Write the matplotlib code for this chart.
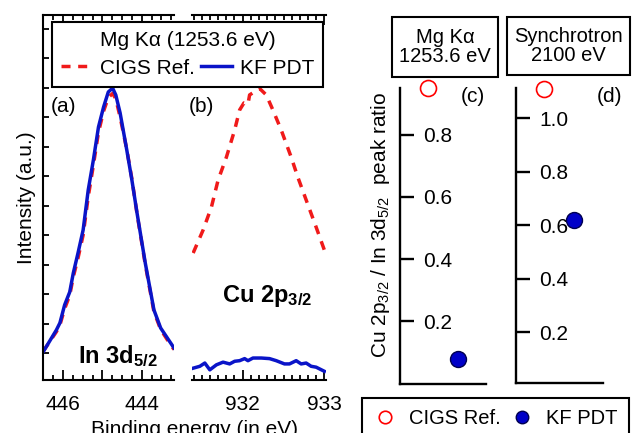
import matplotlib.pyplot as plt
from matplotlib.patches import Rectangle
from matplotlib.lines import Line2D
from matplotlib.ticker import MultipleLocator

plt.rcParams['font.family'] = ['Liberation Sans', 'DejaVu Sans']
plt.rcParams['mathtext.fontset'] = 'custom'
plt.rcParams['mathtext.rm'] = 'Liberation Sans'
plt.rcParams['mathtext.bf'] = 'Liberation Sans:bold'
plt.rcParams['mathtext.it'] = 'Liberation Sans:italic'
plt.rcParams['font.size'] = 15

# In 3d5/2 spectra (binding energy, eV / intensity, a.u.)
in_be = [446.51, 446.17, 446.08, 445.96, 445.83, 445.74, 445.62, 445.49, 445.36, 445.23,
         445.10, 444.97, 444.85, 444.74, 444.66, 444.55, 444.38, 444.25, 444.12, 443.91,
         443.69, 443.52, 443.35, 443.18]
in_kf = [0.003, 0.078, 0.102, 0.163, 0.207, 0.271, 0.339, 0.417, 0.553, 0.654,
         0.766, 0.834, 0.885, 0.898, 0.875, 0.814, 0.688, 0.586, 0.475, 0.305,
         0.146, 0.085, 0.051, 0.017]
in_ref = [0.005, 0.072, 0.095, 0.150, 0.196, 0.258, 0.322, 0.400, 0.530, 0.636,
          0.748, 0.820, 0.866, 0.880, 0.862, 0.800, 0.690, 0.590, 0.472, 0.300,
          0.140, 0.080, 0.045, 0.012]

# Cu 2p3/2 spectra
cu_be_ref = [931.394, 931.516, 931.618, 931.699, 931.801, 931.902, 931.963, 932.016, 932.065,
             932.085, 932.207, 932.289, 932.370, 932.472, 932.594, 932.674, 932.777, 932.899, 933.0]
cu_ref = [0.339, 0.417, 0.495, 0.586, 0.664, 0.756, 0.824, 0.848, 0.844,
          0.875, 0.897, 0.875, 0.824, 0.756, 0.664, 0.597, 0.519, 0.427, 0.349]
cu_be_kf = [931.374, 931.476, 931.537, 931.598, 931.679, 931.760, 931.841, 931.902, 931.963,
            932.024, 932.065, 932.126, 932.228, 932.329, 932.411, 932.512, 932.573, 932.655,
            932.716, 932.777, 932.838, 932.899, 933.0]
cu_kf = [-0.053, -0.045, -0.034, -0.057, -0.040, -0.031, -0.037, -0.028, -0.026,
         -0.019, -0.026, -0.017, -0.017, -0.019, -0.026, -0.037, -0.037, -0.026,
         -0.037, -0.034, -0.045, -0.048, -0.062]

# Cu 2p3/2 / In 3d5/2 peak ratios
samples = [0, 1]
ratio_mg = [0.95, 0.079]
ratio_sync = [1.11, 0.62]

RED = '#f01a1a'
BLUE = '#0a14c8'
DASH = (0, (2.6, 2.2))

W, H = 632, 433
fig = plt.figure(figsize=(6.32, 4.33), dpi=100)


def box(l, t, r, b):
    return [l / W, 1 - b / H, (r - l) / W, (b - t) / H]


ax_a = fig.add_axes(box(43, 15, 174, 380))
ax_b = fig.add_axes(box(192, 15, 326, 380))

l_ref, = ax_a.plot(in_be, in_ref, color=RED, lw=2.5, ls=DASH)
l_kf, = ax_a.plot(in_be, in_kf, color=BLUE, lw=2.5)
ax_b.plot(cu_be_ref, cu_ref, color=RED, lw=2.5, ls=DASH)
ax_b.plot(cu_be_kf, cu_kf, color=BLUE, lw=2.5)

ax_a.set_xlim(446.51, 443.18)
ax_b.set_xlim(931.38, 933.02)
for ax in (ax_a, ax_b):
    ax.set_ylim(-0.0915, 1.146)
    ax.spines['right'].set_visible(False)
    for s in ax.spines.values():
        s.set_linewidth(1.5)
    ax.tick_params(axis='x', which='both', direction='in', top=True, width=1.3, pad=11)
    ax.tick_params(axis='x', which='major', length=7)
    ax.tick_params(axis='x', which='minor', length=3.8)

ax_a.xaxis.set_major_locator(MultipleLocator(1))
ax_a.xaxis.set_minor_locator(MultipleLocator(0.25))
ax_a.set_xticks([446, 445, 444], ['446', '', '444'])
ax_a.yaxis.set_major_locator(MultipleLocator(0.1))
ax_a.tick_params(axis='y', direction='in', length=4, width=1.3, labelleft=False)
ax_a.set_ylabel('Intensity (a.u.)', labelpad=5)

ax_b.spines['left'].set_visible(False)
ax_b.set_xticks([932, 933])
ax_b.xaxis.set_minor_locator(MultipleLocator(0.1))
ax_b.set_yticks([])

fig.text(194 / W, 1 - 420 / H, 'Binding energy (in eV)', ha='center', va='top')

fig.text(63 / W, 1 - 107 / H, '(a)', ha='center', va='center')
fig.text(201 / W, 1 - 107 / H, '(b)', ha='center', va='center')
fig.text(78 / W, 1 - 363 / H, r'In 3d$_{\mathbf{5/2}}$', fontweight='bold', fontsize=17,
         va='baseline')
fig.text(222 / W, 1 - 302 / H, r'Cu 2p$_{\mathbf{3/2}}$', fontweight='bold', fontsize=17,
         va='baseline')

leg = fig.legend([l_ref, l_kf], ['CIGS Ref.', 'KF PDT'], title='Mg Kα (1253.6 eV)', ncol=2,
                 loc='upper left', bbox_to_anchor=(52 / W, 1 - 22 / H), borderaxespad=0,
                 fancybox=False, framealpha=1, edgecolor='black', handlelength=1.5,
                 handletextpad=0.35, columnspacing=0.3, borderpad=0.45, labelspacing=0.4)
leg.get_title().set_fontsize(15)
leg.get_frame().set_linewidth(1.5)

# peak ratio panels
ax_c = fig.add_axes(box(400, 88, 486, 383.5))
ax_d = fig.add_axes(box(516, 88, 603, 383))
for ax, vals, yl, yt, lab, lx in ((ax_c, ratio_mg, (0, 0.95), [0.2, 0.4, 0.6, 0.8], '(c)', 473),
                                  (ax_d, ratio_sync, (0.01, 1.114), [0.2, 0.4, 0.6, 0.8, 1.0], '(d)', 610)):
    ax.plot(samples[0], vals[0], 'o', ms=11.5, mfc='none', mec='red', mew=1.2, clip_on=False)
    ax.plot(samples[1], vals[1], 'o', ms=11.5, mfc='#0000c8', mec='#000050', mew=1, clip_on=False)
    ax.set_ylim(*yl)
    ax.set_xlim(-0.92, 1.95)
    ax.set_yticks(yt, [f'{v:.1f}' for v in yt])
    ax.set_xticks([])
    ax.spines['right'].set_visible(False)
    ax.spines['top'].set_visible(False)
    ax.spines['left'].set_linewidth(1.7)
    ax.spines['bottom'].set_linewidth(1.7)
    ax.tick_params(axis='y', direction='in', length=10, width=1.7, pad=-16.5)
    for t in ax.get_yticklabels():
        t.set_horizontalalignment('left')
    fig.text(lx / W, 1 - 97 / H, lab, ha='center', va='center')

fig.text(380 / W, 1 - 225 / H, r'Cu 2p$_{3/2}$ / In 3d$_{5/2}$  peak ratio', rotation=90,
         ha='center', va='center')

for (l, t, r, b), txt in (((392, 17, 498, 77), 'Mg Kα\n1253.6 eV'),
                          ((507, 17, 630, 75), 'Synchrotron\n2100 eV')):
    fig.patches.append(Rectangle((l / W, 1 - b / H), (r - l) / W, (b - t) / H, fill=False,
                                 lw=1.5, ec='black', transform=fig.transFigure))
    fig.text((l + r) / 2 / W, 1 - (t + b) / 2 / H, txt, ha='center', va='center',
             linespacing=1.05, fontsize=14.5)

h_ref = Line2D([], [], marker='o', ls='', ms=9, mfc='none', mec='red', mew=1.2)
h_kf = Line2D([], [], marker='o', ls='', ms=9, mfc='#0000c8', mec='#000050')
leg2 = fig.legend([h_ref, h_kf], ['CIGS Ref.', 'KF PDT'], ncol=2, loc='upper left',
                  bbox_to_anchor=(362 / W, 1 - 398 / H), borderaxespad=0, fancybox=False,
                  framealpha=1, edgecolor='black', handlelength=1.2, handletextpad=0.6,
                  columnspacing=0.45, borderpad=0.55, fontsize=14.5)
leg2.get_frame().set_linewidth(1.5)

fig.savefig('out.png', dpi=100)
